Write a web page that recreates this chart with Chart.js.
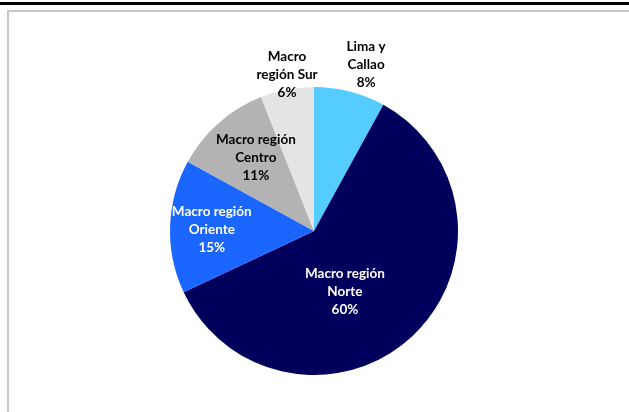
<!DOCTYPE html>
<html>
<head>
<meta charset="utf-8">
<script src="https://cdn.jsdelivr.net/npm/chart.js@4/dist/chart.umd.min.js"></script>
<style>
    html, body { margin: 0; padding: 0; background: #fff; }
    body { width: 629px; height: 412px; position: relative; overflow: hidden; }
    .rule { position: absolute; left: 0; top: 2px; width: 629px; height: 3px; background: #000; }
    .frame { position: absolute; left: 7px; top: 10px; width: 640px; height: 420px;
             border-left: 2px solid #c8c8c8; border-top: 2px solid #c8c8c8; }
    #regionChart { position: absolute; left: 0; top: 0; }
</style>
</head>
<body>
<div class="rule"></div>
<div class="frame"></div>
<canvas id="regionChart" width="629" height="412"></canvas>
<script>
// regions, clockwise from 12 o'clock
var regions = [
    ['Lima y', 'Callao'],
    ['Macro región', 'Norte'],
    ['Macro región', 'Oriente'],
    ['Macro región', 'Centro'],
    ['Macro', 'región Sur']
];
var shares = [8, 60, 15, 11, 6];

var sliceColors = ['#55ccff', '#00005c', '#1a66ff', '#b3b3b3', '#e4e4e4'];
var labelColors = ['#000', '#fff', '#fff', '#000', '#000'];
// label placement: distance as a fraction of the radius, and angle nudge in degrees
var labelRadius = [1.21, 0.47, 0.71, 0.65, 1.10];
var labelNudge = [3, 16, -1, 3, 1];

var pieLabels = {
    id: 'pieLabels',
    afterDatasetsDraw: function(chart) {
        var ctx = chart.ctx;
        var arcs = chart.getDatasetMeta(0).data;
        ctx.save();
        ctx.font = 'bold 13.5px Lato, "Liberation Sans", sans-serif';
        ctx.textAlign = 'center';
        ctx.textBaseline = 'middle';
        arcs.forEach(function(arc, i) {
            var mid = (arc.startAngle + arc.endAngle) / 2 + labelNudge[i] * Math.PI / 180;
            var r = arc.outerRadius * labelRadius[i];
            var x = arc.x + Math.cos(mid) * r;
            var y = arc.y + Math.sin(mid) * r;
            var lines = regions[i].concat([shares[i] + '%']);
            ctx.fillStyle = labelColors[i];
            lines.forEach(function(line, j) {
                ctx.fillText(line, x, y + (j - (lines.length - 1) / 2) * 18);
            });
        });
        ctx.restore();
    }
};

var ctx = document.getElementById('regionChart').getContext('2d');
var regionChart = new Chart(ctx, {
    type: 'pie',
    data: {
        labels: regions.map(function(r) { return r.join(' '); }),
        datasets: [{
            data: shares,
            backgroundColor: sliceColors,
            borderWidth: 0,
            hoverOffset: 0
        }]
    },
    options: {
        responsive: false,
        maintainAspectRatio: false,
        animation: false,
        layout: {
            padding: { left: 170, right: 171, top: 86, bottom: 36 }
        },
        plugins: {
            legend: { display: false },
            tooltip: { enabled: false }
        }
    },
    plugins: [pieLabels]
});
</script>
</body>
</html>
